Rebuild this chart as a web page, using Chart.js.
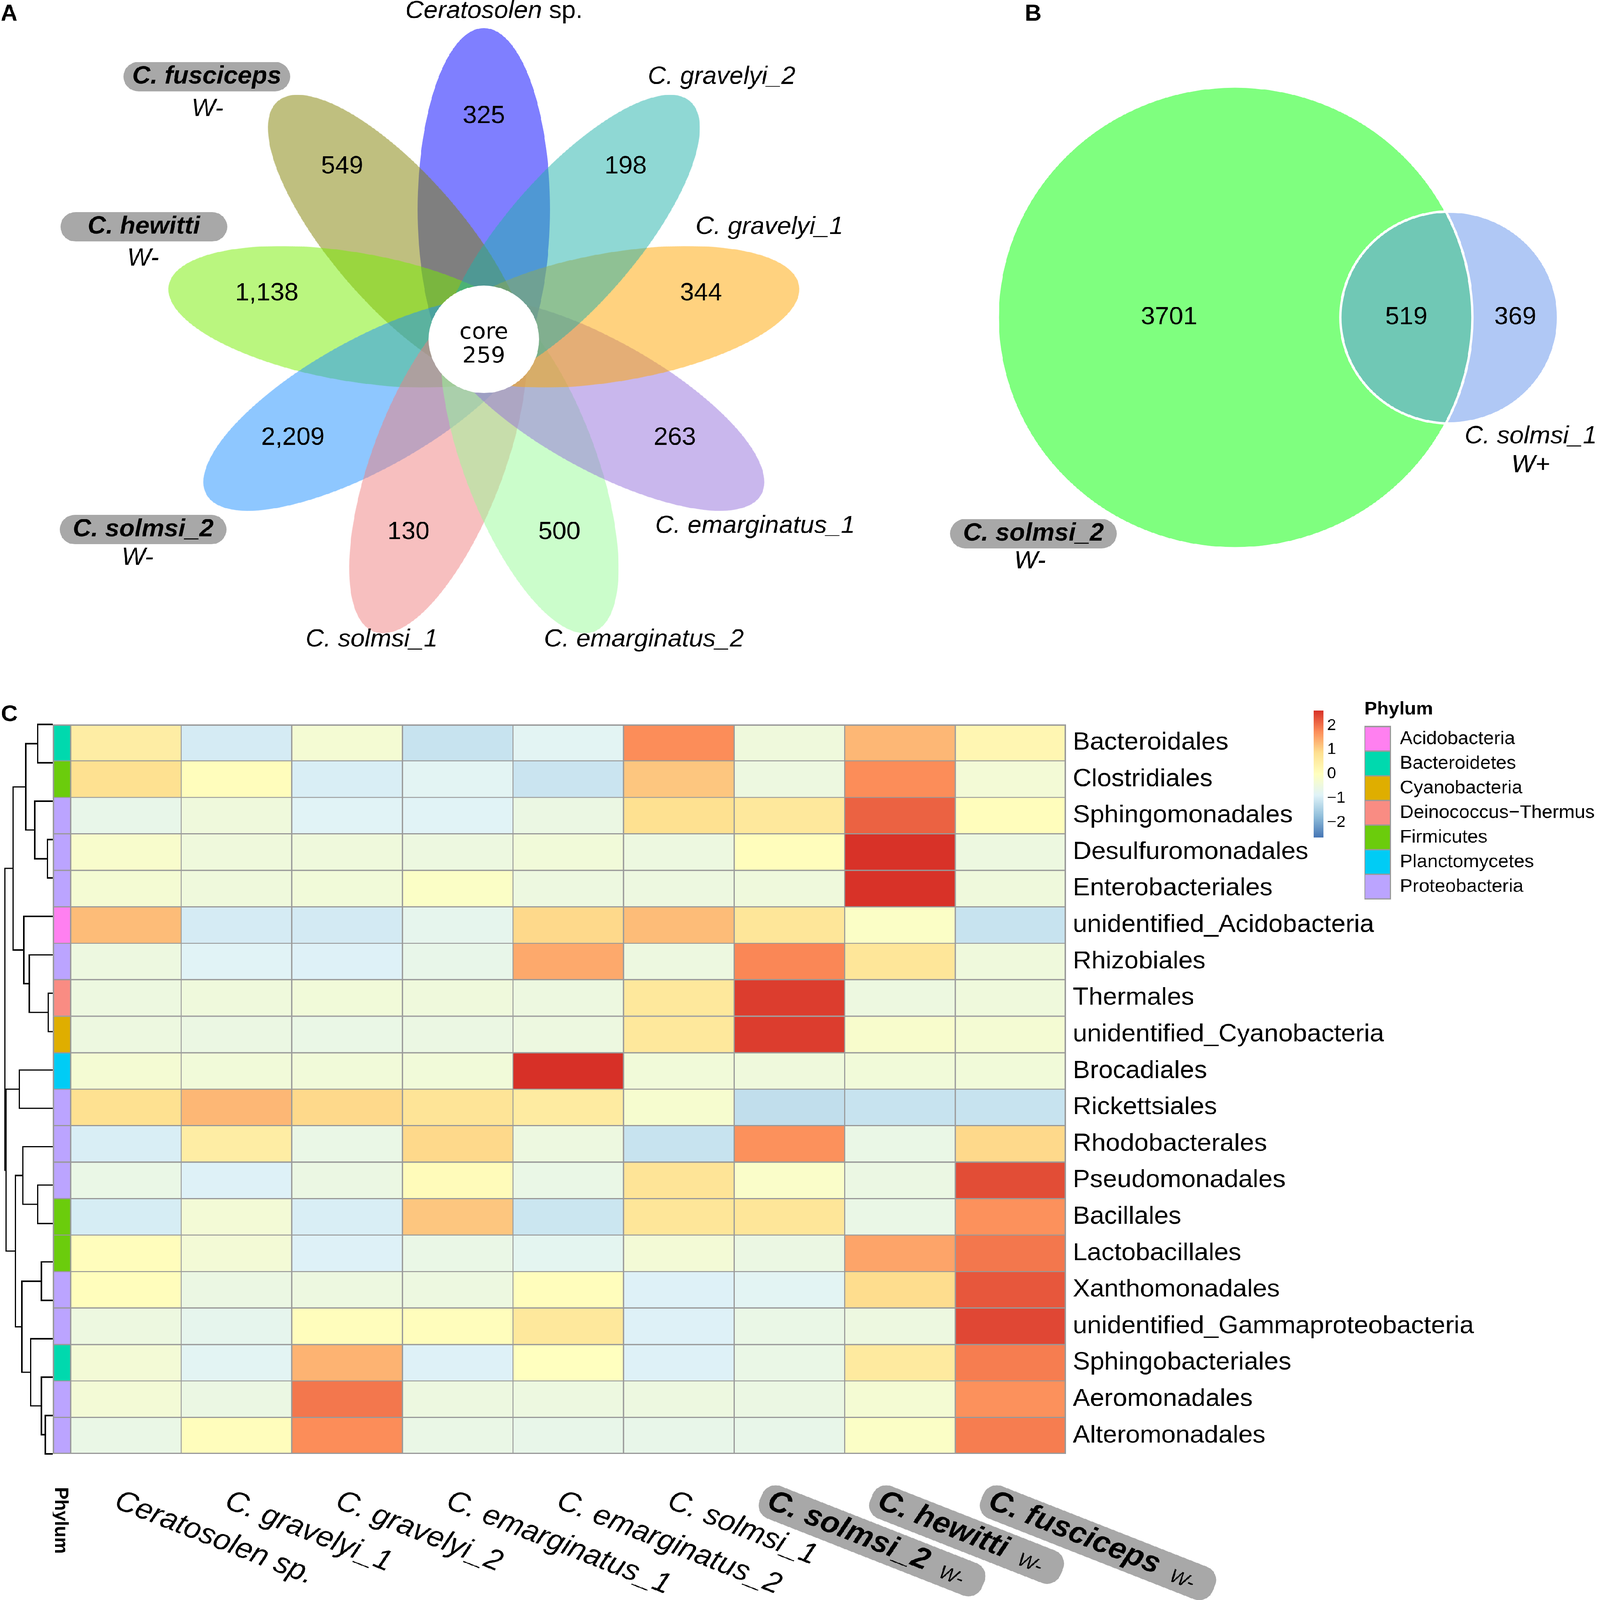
<!DOCTYPE html>
<html>
<head>
<meta charset="utf-8">
<title>Fig wasp OTUs: flower plot, Venn and order heatmap</title>
<script src="https://cdn.jsdelivr.net/npm/chart.js@4.4.1/dist/chart.umd.min.js"></script>
<style>
  html, body { margin: 0; padding: 0; background: #fff; width: 100%; height: 100%; overflow: hidden; }
  #page { position: absolute; left: 0; top: 0; width: 4550px; height: 4677px; transform-origin: 0 0; background: #fff; }
  canvas { position: absolute; }
</style>
</head>
<body>
<div id="page">
<canvas id="flowerChart" width="2560" height="1960" style="left:0;top:0;width:2560px;height:1960px"></canvas>
<canvas id="vennChart" width="1900" height="1750" style="left:2650px;top:0;width:1900px;height:1750px"></canvas>
<canvas id="treeChart" width="150" height="2647" style="left:0;top:2030px;width:150px;height:2647px"></canvas>
<canvas id="heatChart" width="4400" height="2647" style="left:150px;top:2030px;width:4400px;height:2647px"></canvas>
<canvas id="scaleChart" width="140" height="400" style="left:3736px;top:2060px;width:140px;height:400px"></canvas>
<canvas id="phylumChart" width="680" height="1300" style="left:3870px;top:2030px;width:680px;height:1300px"></canvas>
</div>
<script>
// --- data: panel A (flower plot of OTUs) ---
const flowerSpecies = ['Ceratosolen sp.', 'C. fusciceps', 'C. hewitti', 'C. solmsi_2', 'C. solmsi_1',
                       'C. emarginatus_2', 'C. emarginatus_1', 'C. gravelyi_1', 'C. gravelyi_2'];
const flowerUnique = [325, 549, 1138, 2209, 130, 500, 263, 344, 198];
const flowerCore = 259;

// --- data: panel B (two-set Venn) ---
const vennSets = ['C. solmsi_2', 'C. solmsi_1'];
const vennCounts = [3701, 519, 369];   // only solmsi_2, shared, only solmsi_1

// --- data: panel C (row-scaled abundance of bacterial orders) ---
const sampleNames = ['Ceratosolen sp.', 'C. gravelyi_1', 'C. gravelyi_2', 'C. emarginatus_1',
                     'C. emarginatus_2', 'C. solmsi_1', 'C. solmsi_2', 'C. hewitti', 'C. fusciceps'];
const sampleWolbachiaFree = [false, false, false, false, false, false, true, true, true];
const orderNames = ['Bacteroidales', 'Clostridiales', 'Sphingomonadales', 'Desulfuromonadales',
  'Enterobacteriales', 'unidentified_Acidobacteria', 'Rhizobiales', 'Thermales',
  'unidentified_Cyanobacteria', 'Brocadiales', 'Rickettsiales', 'Rhodobacterales',
  'Pseudomonadales', 'Bacillales', 'Lactobacillales', 'Xanthomonadales',
  'unidentified_Gammaproteobacteria', 'Sphingobacteriales', 'Aeromonadales', 'Alteromonadales'];
const orderPhylum = ['Bacteroidetes', 'Firmicutes', 'Proteobacteria', 'Proteobacteria',
  'Proteobacteria', 'Acidobacteria', 'Proteobacteria', 'Deinococcus\u2212Thermus',
  'Cyanobacteria', 'Planctomycetes', 'Proteobacteria', 'Proteobacteria',
  'Proteobacteria', 'Firmicutes', 'Firmicutes', 'Proteobacteria',
  'Proteobacteria', 'Bacteroidetes', 'Proteobacteria', 'Proteobacteria'];
const phylumNames = ['Acidobacteria', 'Bacteroidetes', 'Cyanobacteria', 'Deinococcus\u2212Thermus',
                     'Firmicutes', 'Planctomycetes', 'Proteobacteria'];
const zScores = [
  [ 0.50, -1.00, -0.30, -1.15, -0.80,  1.75, -0.45,  1.30,  0.25],
  [ 0.85,  0.05, -0.95, -0.80, -1.12,  1.15, -0.50,  1.75, -0.35],
  [-0.65, -0.45, -0.85, -0.85, -0.55,  0.85,  0.65,  2.15,  0.05],
  [-0.20, -0.45, -0.45, -0.50, -0.40, -0.50,  0.05,  2.60, -0.50],
  [-0.30, -0.45, -0.40, -0.10, -0.50, -0.50, -0.45,  2.60, -0.45],
  [ 1.25, -1.00, -1.02, -0.70,  0.95,  1.25,  0.70, -0.10, -1.15],
  [-0.50, -0.85, -0.90, -0.65,  1.45, -0.50,  1.80,  0.70, -0.45],
  [-0.50, -0.45, -0.40, -0.45, -0.50,  0.65,  2.50, -0.50, -0.45],
  [-0.50, -0.55, -0.60, -0.55, -0.50,  0.65,  2.50, -0.20, -0.30],
  [-0.30, -0.40, -0.40, -0.40,  2.65, -0.40, -0.45, -0.40, -0.40],
  [ 0.85,  1.30,  0.95,  0.75,  0.55, -0.25, -1.22, -1.15, -1.15],
  [-0.95,  0.50, -0.60,  0.95, -0.50, -1.15,  1.70, -0.60,  0.95],
  [-0.60, -0.90, -0.55,  0.10, -0.60,  0.75, -0.15, -0.55,  2.35],
  [-0.98, -0.35, -0.95,  1.15, -1.10,  0.70,  0.70, -0.60,  1.70],
  [ 0.05, -0.35, -0.90, -0.60, -0.75, -0.35, -0.55,  1.50,  1.95],
  [ 0.05, -0.55, -0.50, -0.50,  0.05, -0.90, -0.80,  0.90,  2.25],
  [-0.50, -0.70,  0.05,  0.05,  0.65, -0.90, -0.60, -0.50,  2.40],
  [-0.35, -0.80,  1.35, -0.90,  0.00, -0.90, -0.60,  0.60,  1.90],
  [-0.35, -0.55,  1.95, -0.50, -0.50, -0.50, -0.55, -0.30,  1.70],
  [-0.60,  0.05,  1.75, -0.60, -0.65, -0.65, -0.65, -0.10,  1.90]
];
// row clustering, hclust style: negative = row (1-based), positive = earlier merge; third = height
const rowTree = [
  [-19, -20, 21], [-8, -9, 13], [-4, -5, 15], [-15, -16, 32], [-18, 1, 32],
  [-1, -2, 43], [-13, -14, 43], [-3, 3, 51], [-17, 5, 63], [-7, 2, 67],
  [6, 8, 77], [-6, 10, 82], [-12, 7, 85], [4, 9, 88], [-10, -11, 95],
  [13, 14, 106], [11, 12, 113], [15, 16, 133], [17, 18, 136]
];
const scaleLimits = [-2.62, 2.62];
const scaleTicks = [-2, -1, 0, 1, 2];

// --- styles ---
const petalColors = ['#0000FF', '#808000', '#76EE00', '#1E90FF', '#F08080', '#98FB98', '#9370DB', '#FFA500', '#20B2AA'];
const phylumColors = ['#FF80F0', '#00D9AE', '#DFAE00', '#F98C83', '#6BCC0C', '#00CCF5', '#BBA4FF'];
const ramp = ['#4575B4', '#91BFDB', '#E0F3F8', '#FFFFBF', '#FEE090', '#FC8D59', '#D73027'];
const BOX_GREY = '#A8A8A8';
const SANS = '"Liberation Sans", Arial, sans-serif';

// fit the 4550 x 4677 figure into whatever viewport we get
const pageEl = document.getElementById('page');
const fitX = document.documentElement.clientWidth / 4550;
const fitY = document.documentElement.clientHeight / 4677;
if (fitX > 0 && fitY > 0) pageEl.style.transform = `scale(${fitX}, ${fitY})`;

Chart.defaults.animation = false;
Chart.defaults.font.family = SANS;
Chart.defaults.color = '#000';
Chart.defaults.plugins.legend.display = false;
Chart.defaults.plugins.tooltip.enabled = false;

const deg = d => d * Math.PI / 180;

function pill(ctx, x, y, w, h, r) {
  ctx.beginPath();
  ctx.moveTo(x + r, y);
  ctx.arcTo(x + w, y, x + w, y + h, r);
  ctx.arcTo(x + w, y + h, x, y + h, r);
  ctx.arcTo(x, y + h, x, y, r);
  ctx.arcTo(x, y, x + w, y, r);
  ctx.closePath();
}

function boxLabel(ctx, text, cx, cy) {
  ctx.fillStyle = BOX_GREY;
  pill(ctx, cx - 237, cy - 43, 474, 86, 43);
  ctx.fill();
  ctx.fillStyle = '#000';
  ctx.font = 'italic bold 72px ' + SANS;
  ctx.textAlign = 'center';
  ctx.textBaseline = 'middle';
  ctx.fillText(text, cx, cy);
}

function plainLabel(ctx, text, x, y, align) {
  ctx.fillStyle = '#000';
  ctx.font = 'italic 72px ' + SANS;
  ctx.textAlign = align || 'left';
  ctx.textBaseline = 'middle';
  ctx.fillText(text, x, y);
}

// ============ panel A: flower plot ============
const FLOWER_CX = 1376, FLOWER_CY = 992;
const PETAL_SHIFT = 380, PETAL_LONG = 530, PETAL_SHORT = 188;
const NUMBER_RING = 627, NUMBER_LIFT = 25, CORE_RADIUS = 157;
const petalAngles = flowerSpecies.map((_, i) => 90 + 40 * i);

function petalImage(color) {
  const c = document.createElement('canvas');
  c.width = 2 * PETAL_LONG + 4;
  c.height = 2 * PETAL_SHORT + 4;
  const g = c.getContext('2d');
  g.globalAlpha = 0.5;
  g.fillStyle = color;
  g.beginPath();
  g.ellipse(c.width / 2, c.height / 2, PETAL_LONG, PETAL_SHORT, 0, 0, Math.PI * 2);
  g.fill();
  return c;
}

const flowerText = {
  id: 'flowerText',
  afterDatasetsDraw(chart) {
    const ctx = chart.ctx;
    ctx.save();
    ctx.fillStyle = '#000';
    ctx.textAlign = 'center';
    ctx.textBaseline = 'middle';
    ctx.font = '72px ' + SANS;
    chart.getDatasetMeta(1).data.forEach((pt, i) => {
      ctx.fillText(flowerUnique[i].toLocaleString('en-US'), pt.x, pt.y);
    });
    const core = chart.getDatasetMeta(0).data[0];
    ctx.font = '64px "DejaVu Sans"';
    ctx.textBaseline = 'alphabetic';
    ctx.fillText('core', core.x, core.y - 2);
    ctx.fillText(String(flowerCore), core.x, core.y + 68);

    // species names
    ctx.font = 'italic 72px ' + SANS;
    const w1 = ctx.measureText('Ceratosolen').width;
    ctx.font = '72px ' + SANS;
    const w2 = ctx.measureText(' sp.').width;
    const x0 = 1405 - (w1 + w2) / 2;
    ctx.textAlign = 'left';
    ctx.textBaseline = 'middle';
    ctx.font = 'italic 72px ' + SANS;
    ctx.fillText('Ceratosolen', x0, 33);
    ctx.font = '72px ' + SANS;
    ctx.fillText(' sp.', x0 + w1, 33);

    plainLabel(ctx, flowerSpecies[8], 1842, 225);
    plainLabel(ctx, flowerSpecies[7], 1978, 664);
    plainLabel(ctx, flowerSpecies[6], 1863, 1538);
    plainLabel(ctx, flowerSpecies[5], 1547, 1870);
    plainLabel(ctx, flowerSpecies[4], 869, 1870);
    boxLabel(ctx, flowerSpecies[1], 588, 224);
    plainLabel(ctx, 'W-', 590, 319, 'center');
    boxLabel(ctx, flowerSpecies[2], 409, 663);
    plainLabel(ctx, 'W-', 407, 756, 'center');
    boxLabel(ctx, flowerSpecies[3], 407, 1548);
    plainLabel(ctx, 'W-', 391, 1631, 'center');

    ctx.font = 'bold 66px ' + SANS;
    ctx.textAlign = 'left';
    ctx.textBaseline = 'alphabetic';
    ctx.fillText('A', 2, 60);
    ctx.restore();
  }
};

new Chart(document.getElementById('flowerChart'), {
  type: 'scatter',
  data: {
    datasets: [
      { // core circle
        data: [{ x: 0, y: 0 }],
        pointRadius: CORE_RADIUS, pointBackgroundColor: '#ffffff', pointBorderWidth: 0, order: 0
      },
      { // anchors for the unique counts
        data: petalAngles.map(a => ({ x: NUMBER_RING * Math.cos(deg(a)), y: NUMBER_RING * Math.sin(deg(a)) + NUMBER_LIFT })),
        pointRadius: 0, order: -1
      },
      { // petals
        data: petalAngles.map(a => ({ x: PETAL_SHIFT * Math.cos(deg(a)), y: PETAL_SHIFT * Math.sin(deg(a)) })),
        pointStyle: petalColors.map(petalImage),
        pointRotation: petalAngles.map(a => -a),
        pointRadius: 10, order: 1
      }
    ]
  },
  options: {
    responsive: false, devicePixelRatio: 1, events: [],
    layout: { padding: 0, autoPadding: false },
    scales: {
      x: { type: 'linear', min: -FLOWER_CX, max: 2560 - FLOWER_CX, display: false },
      y: { type: 'linear', min: -(1960 - FLOWER_CY), max: FLOWER_CY, display: false }
    }
  },
  plugins: [flowerText]
});

// ============ panel B: Venn ============
const VENN_CX = 862, VENN_CY = 928, VENN_K = 10.39;
function lensArea(r1, r2, d) {
  const a1 = r1 * r1 * Math.acos((d * d + r1 * r1 - r2 * r2) / (2 * d * r1));
  const a2 = r2 * r2 * Math.acos((d * d + r2 * r2 - r1 * r1) / (2 * d * r2));
  const t = 0.5 * Math.sqrt((-d + r1 + r2) * (d + r1 - r2) * (d - r1 + r2) * (d + r1 + r2));
  return a1 + a2 - t;
}
const rBig = VENN_K * Math.sqrt(vennCounts[0] + vennCounts[1]);
const rSmall = VENN_K * Math.sqrt(vennCounts[1] + vennCounts[2]);
const lensTarget = Math.PI * rBig * rBig * vennCounts[1] / (vennCounts[0] + vennCounts[1]);
let lo = rBig - rSmall + 0.01, hi = rBig + rSmall - 0.01;
for (let i = 0; i < 60; i++) {
  const mid = (lo + hi) / 2;
  if (lensArea(rBig, rSmall, mid) > lensTarget) lo = mid; else hi = mid;
}
const vennGap = (lo + hi) / 2;
const vennCircles = [{ x: 0, y: 0, r: rBig }, { x: vennGap, y: 0, r: rSmall }];

const vennText = {
  id: 'vennText',
  afterDatasetsDraw(chart) {
    const ctx = chart.ctx;
    ctx.save();
    ctx.fillStyle = '#000';
    ctx.font = '72px ' + SANS;
    ctx.textAlign = 'center';
    ctx.textBaseline = 'middle';
    chart.getDatasetMeta(0).data.forEach((pt, i) => ctx.fillText(String(vennCounts[i]), pt.x, pt.y));
    plainLabel(ctx, vennSets[1], 1515, 1276);
    plainLabel(ctx, 'W+', 1703, 1360, 'center');
    boxLabel(ctx, vennSets[0], 289, 1560);
    plainLabel(ctx, 'W-', 279, 1641, 'center');
    ctx.font = 'bold 66px ' + SANS;
    ctx.textAlign = 'left';
    ctx.textBaseline = 'alphabetic';
    ctx.fillText('B', 264, 60);
    ctx.restore();
  }
};

new Chart(document.getElementById('vennChart'), {
  type: 'bubble',
  data: {
    datasets: [
      { // count anchors
        data: [
          { x: (-rBig + vennGap - rSmall) / 2, y: 0, r: 0 },
          { x: (vennGap - rSmall + rBig) / 2, y: 0, r: 0 },
          { x: (rBig + vennGap + rSmall) / 2, y: 0, r: 0 }
        ],
        order: -1
      },
      { // outlines on top
        data: vennCircles, backgroundColor: 'rgba(0,0,0,0)', borderColor: '#ffffff', borderWidth: 7, order: 0
      },
      { // fills
        data: vennCircles, backgroundColor: ['rgba(0,255,0,0.5)', 'rgba(97,145,235,0.5)'], borderWidth: 0, order: 1
      }
    ]
  },
  options: {
    responsive: false, devicePixelRatio: 1, events: [],
    layout: { padding: 0, autoPadding: false },
    scales: {
      x: { type: 'linear', min: -VENN_CX, max: 1900 - VENN_CX, display: false },
      y: { type: 'linear', min: -(1750 - VENN_CY), max: VENN_CY, display: false }
    }
  },
  plugins: [vennText]
});

// ============ panel C: heatmap ============
const GRID_TOP = 31.5, GRID_BOTTOM_PAD = 371;
const PHYLUM_W = 0.162;            // annotation column width, in cell units
const LABEL_ANGLE = deg(22);

function zColor(v) {
  const t = Math.max(0, Math.min(1, (v - scaleLimits[0]) / (scaleLimits[1] - scaleLimits[0]))) * (ramp.length - 1);
  const i = Math.min(ramp.length - 2, Math.floor(t));
  const f = t - i;
  const a = ramp[i], b = ramp[i + 1];
  const ch = (s, k) => parseInt(s.substr(1 + 2 * k, 2), 16);
  const mix = k => Math.round(ch(a, k) + (ch(b, k) - ch(a, k)) * f);
  return `rgb(${mix(0)},${mix(1)},${mix(2)})`;
}

const cells = [];
const cellFill = [];
orderNames.forEach((name, r) => {
  cells.push({ x: [-PHYLUM_W, 0], y: r + 0.5, row: r, col: -1 });
  cellFill.push(phylumColors[phylumNames.indexOf(orderPhylum[r])]);
  zScores[r].forEach((v, c) => {
    cells.push({ x: [c, c + 1], y: r + 0.5, row: r, col: c });
    cellFill.push(zColor(v));
  });
});

function cellBorder(ctx) {
  const cell = cells[ctx.dataIndex];
  if (!cell) return 2;
  return {
    top: cell.row === 0 ? 4 : 2,
    bottom: cell.row === orderNames.length - 1 ? 4 : 2,
    left: cell.col === -1 ? 4 : 2,
    right: cell.col === sampleNames.length - 1 ? 4 : 2
  };
}

const colLabels = {
  id: 'colLabels',
  afterDraw(chart) {
    const { ctx, chartArea, scales } = chart;
    ctx.save();
    ctx.fillStyle = '#000';
    ctx.textAlign = 'left';
    ctx.textBaseline = 'alphabetic';
    // annotation title
    ctx.save();
    ctx.translate(chartArea.left + 7, chartArea.bottom + 41);
    ctx.rotate(Math.PI / 2);
    ctx.font = 'bold 54px ' + SANS;
    ctx.fillText('Phylum', 0, 0);
    ctx.restore();

    sampleNames.forEach((name, c) => {
      const px = scales.x.getPixelForValue(c + 0.5);
      ctx.save();
      if (!sampleWolbachiaFree[c]) {
        ctx.translate(px - 37, chartArea.bottom + 100);
        ctx.rotate(LABEL_ANGLE);
        ctx.font = 'italic 86px ' + SANS;
        ctx.fillStyle = '#000';
        ctx.fillText(name, 0, 0);
      } else {
        ctx.translate(px - 68, chartArea.bottom + 101);
        ctx.rotate(LABEL_ANGLE);
        ctx.font = 'italic bold 88px ' + SANS;
        const w = ctx.measureText(name).width;
        ctx.font = 'italic 56px ' + SANS;
        const w2 = ctx.measureText('W-').width;
        const boxEnd = w + 40 + w2 + 60;
        ctx.fillStyle = BOX_GREY;
        ctx.strokeStyle = '#ffffff';
        ctx.lineWidth = 3;
        pill(ctx, -25, -76, boxEnd + 25, 105, 43);
        ctx.fill();
        ctx.stroke();
        ctx.fillStyle = '#000';
        ctx.font = 'italic bold 88px ' + SANS;
        ctx.fillText(name, 0, 0);
        ctx.font = 'italic 56px ' + SANS;
        ctx.fillText('W-', w + 40, 4);
      }
      ctx.restore();
    });
    ctx.restore();
  }
};

new Chart(document.getElementById('heatChart'), {
  type: 'bar',
  data: {
    datasets: [{
      data: cells,
      backgroundColor: cellFill,
      borderColor: '#999999',
      borderWidth: cellBorder,
      borderSkipped: false,
      barPercentage: 1,
      categoryPercentage: 1,
      grouped: false
    }]
  },
  options: {
    indexAxis: 'y',
    responsive: false, devicePixelRatio: 1, events: [],
    layout: { padding: { top: GRID_TOP, bottom: GRID_BOTTOM_PAD, left: 0, right: 0 }, autoPadding: false },
    scales: {
      x: { type: 'linear', min: -PHYLUM_W, max: sampleNames.length, display: false },
      y: {
        type: 'linear', min: 0, max: orderNames.length, reverse: true, position: 'right',
        afterBuildTicks: s => { s.ticks = orderNames.map((_, i) => ({ value: i + 0.5 })); },
        afterFit: s => { s.width = 1519; s.paddingTop = 0; s.paddingBottom = 0; },
        grid: { display: false, drawTicks: false },
        border: { display: false },
        ticks: { autoSkip: false, padding: 20, color: '#000', font: { size: 73 }, callback: (v, i) => orderNames[i] }
      }
    }
  },
  plugins: [colLabels]
});

// --- row dendrogram ---
const nodeY = [];
const treeSets = [];
function childPos(id) {
  return id < 0 ? { y: -id - 1 + 0.5, h: 0 } : { y: nodeY[id - 1], h: rowTree[id - 1][2] };
}
rowTree.forEach(([a, b, h], k) => {
  const A = childPos(a), B = childPos(b);
  nodeY[k] = (A.y + B.y) / 2;
  treeSets.push({
    data: [{ x: A.h, y: A.y }, { x: h, y: A.y }, { x: h, y: B.y }, { x: B.h, y: B.y }],
    showLine: true, borderColor: '#000', borderWidth: 4, pointRadius: 0, tension: 0, fill: false
  });
});

new Chart(document.getElementById('treeChart'), {
  type: 'scatter',
  data: { datasets: treeSets },
  options: {
    responsive: false, devicePixelRatio: 1, events: [],
    layout: { padding: { top: GRID_TOP, bottom: GRID_BOTTOM_PAD, left: 0, right: 0 }, autoPadding: false },
    scales: {
      x: { type: 'linear', min: 0, max: 150, reverse: true, display: false },
      y: { type: 'linear', min: 0, max: orderNames.length, reverse: true, display: false }
    }
  },
  plugins: [{
    id: 'panelC',
    afterDraw(chart) {
      const ctx = chart.ctx;
      ctx.save();
      ctx.fillStyle = '#000';
      ctx.font = 'bold 66px ' + SANS;
      ctx.fillText('C', 3, 78);
      ctx.restore();
    }
  }]
});

// --- colour key ---
function rampGradient(chart) {
  const a = chart.chartArea;
  if (!a) return ramp[3];
  const g = chart.ctx.createLinearGradient(0, a.bottom, 0, a.top);
  ramp.forEach((c, i) => g.addColorStop(i / (ramp.length - 1), c));
  return g;
}
new Chart(document.getElementById('scaleChart'), {
  type: 'bar',
  data: {
    labels: ['z'],
    datasets: [{ data: [[scaleLimits[0], scaleLimits[1]]], backgroundColor: ctx => rampGradient(ctx.chart),
                 borderWidth: 0, barPercentage: 1, categoryPercentage: 1 }]
  },
  options: {
    responsive: false, devicePixelRatio: 1, events: [],
    layout: { padding: { top: 17, bottom: 12, left: 0, right: 0 }, autoPadding: false },
    scales: {
      x: { display: false },
      y: {
        min: scaleLimits[0], max: scaleLimits[1], position: 'right',
        afterBuildTicks: s => { s.ticks = scaleTicks.map(v => ({ value: v })); },
        afterFit: s => { s.width = 113; s.paddingTop = 0; s.paddingBottom = 0; },
        grid: { display: false, drawTicks: false },
        border: { display: false },
        ticks: { padding: 11, color: '#000', font: { size: 46 },
                 callback: v => (v < 0 ? '\u2212' + Math.abs(v) : String(v)) }
      }
    }
  }
});

// --- phylum key ---
new Chart(document.getElementById('phylumChart'), {
  type: 'bar',
  data: { labels: [], datasets: [] },
  options: {
    responsive: false, devicePixelRatio: 1, events: [],
    layout: { padding: { top: 17, left: 10, right: 0, bottom: 0 }, autoPadding: false },
    scales: { x: { display: false }, y: { display: false } },
    plugins: {
      legend: {
        display: true, position: 'top', align: 'start',
        title: { display: true, text: 'Phylum', position: 'start', color: '#000',
                 font: { size: 54, weight: 'bold' }, padding: { top: 0, bottom: 12 } },
        labels: {
          boxWidth: 74, boxHeight: 72, padding: 0, color: '#000', font: { size: 54 },
          generateLabels: () => phylumNames.map((n, i) => ({
            text: n, fillStyle: phylumColors[i], strokeStyle: '#999999', lineWidth: 4, hidden: false, datasetIndex: i
          }))
        }
      }
    }
  }
});
</script>
</body>
</html>
